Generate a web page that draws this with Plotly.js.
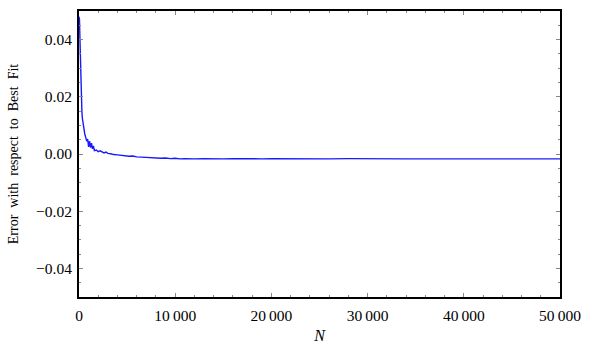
<!DOCTYPE html>
<html>
<head>
<meta charset="utf-8">
<script src="https://cdn.plot.ly/plotly-3.0.1.min.js"></script>
<style>html,body{margin:0;padding:0;background:#fff;}#chart{width:596px;height:358px;}</style>
</head>
<body>
<div id="chart"></div>
<script>
const nValues = [0,50,100,150,200,250,300,350,400,450,500,600,700,800,900,1000,1100,1200,1300,1400,1500,1600,1800,2000,2200,2400,2600,2800,3000,3300,3600,4000,4400,4800,5200,5600,6000,6500,7000,7500,8000,8500,9000,9500,10000,10500,11000,11500,12000,13000,14000,15000,16000,17000,18000,19000,20000,22000,24000,26000,28000,30000,32000,34000,36000,38000,40000,42000,44000,46000,48000,50000];
const errValues = [0.048,0.047,0.040,0.030,0.022,0.018,0.015,0.0125,0.011,0.0095,0.0085,0.007,0.0058,0.0045,0.0052,0.0025,0.0045,0.0022,0.0038,0.0018,0.0028,0.0012,0.0014,0.0008,0.0011,0.0006,0.0004,0.0007,0.0002,0.0001,-0.0002,-0.0003,-0.0005,-0.0006,-0.0008,-0.0007,-0.0010,-0.0011,-0.0012,-0.0014,-0.0013,-0.0015,-0.0014,-0.0016,-0.0015,-0.0017,-0.0016,-0.0017,-0.0017,-0.0016,-0.0017,-0.0017,-0.0016,-0.0017,-0.0017,-0.0017,-0.0016,-0.0017,-0.0017,-0.0017,-0.0016,-0.0017,-0.0017,-0.0017,-0.0017,-0.0016,-0.0017,-0.0017,-0.0017,-0.0017,-0.0017,-0.0017];
const xTickVals = [0,10000,20000,30000,40000,50000];
const xTickText = ['0','10\u2009000','20\u2009000','30\u2009000','40\u2009000','50\u2009000'];
const yTickVals = [-0.04,-0.02,0,0.02,0.04];
const yTickText = ['\u22120.04','\u22120.02','0.00','0.02','0.04'];

const serif = 'Liberation Serif, DejaVu Serif, serif';
Plotly.newPlot('chart', [{
  x: nValues, y: errValues, type: 'scatter', mode: 'lines',
  line: {color: 'rgb(25,25,255)', width: 1.4}, hoverinfo: 'skip'
}], {
  width: 596, height: 358,
  margin: {l: 79, r: 36, t: 11, b: 61},
  paper_bgcolor: '#fff', plot_bgcolor: '#fff',
  showlegend: false,
  font: {family: serif, color: '#000', size: 15.5},
  xaxis: {
    range: [0, 50000], showgrid: false, zeroline: false,
    showline: true, linecolor: '#000', linewidth: 2, mirror: 'ticks',
    ticks: 'inside', ticklen: 4, tickcolor: '#888', tickwidth: 1,
    tickvals: xTickVals, ticktext: xTickText, ticklabelstandoff: 3,
    minor: {dtick: 2000, tick0: 0, ticks: 'inside', ticklen: 2, tickcolor: '#888', tickwidth: 1, showgrid: false},
    title: {text: '<i>N</i>', font: {family: serif, size: 16}, standoff: 7}
  },
  yaxis: {
    range: [-0.05, 0.05], showgrid: false, zeroline: false,
    showline: true, linecolor: '#000', linewidth: 2, mirror: 'ticks',
    ticks: 'inside', ticklen: 4, tickcolor: '#888', tickwidth: 1,
    tickvals: yTickVals, ticktext: yTickText, ticklabelstandoff: 2,
    minor: {dtick: 0.005, tick0: 0, ticks: 'inside', ticklen: 2, tickcolor: '#888', tickwidth: 1, showgrid: false},
    title: {text: 'Error\u00a0 with\u00a0 respect\u00a0 to\u00a0 Best\u00a0 Fit', font: {family: serif, size: 14}, standoff: 14}
  }
}, {staticPlot: true, displayModeBar: false});
</script>
</body>
</html>
